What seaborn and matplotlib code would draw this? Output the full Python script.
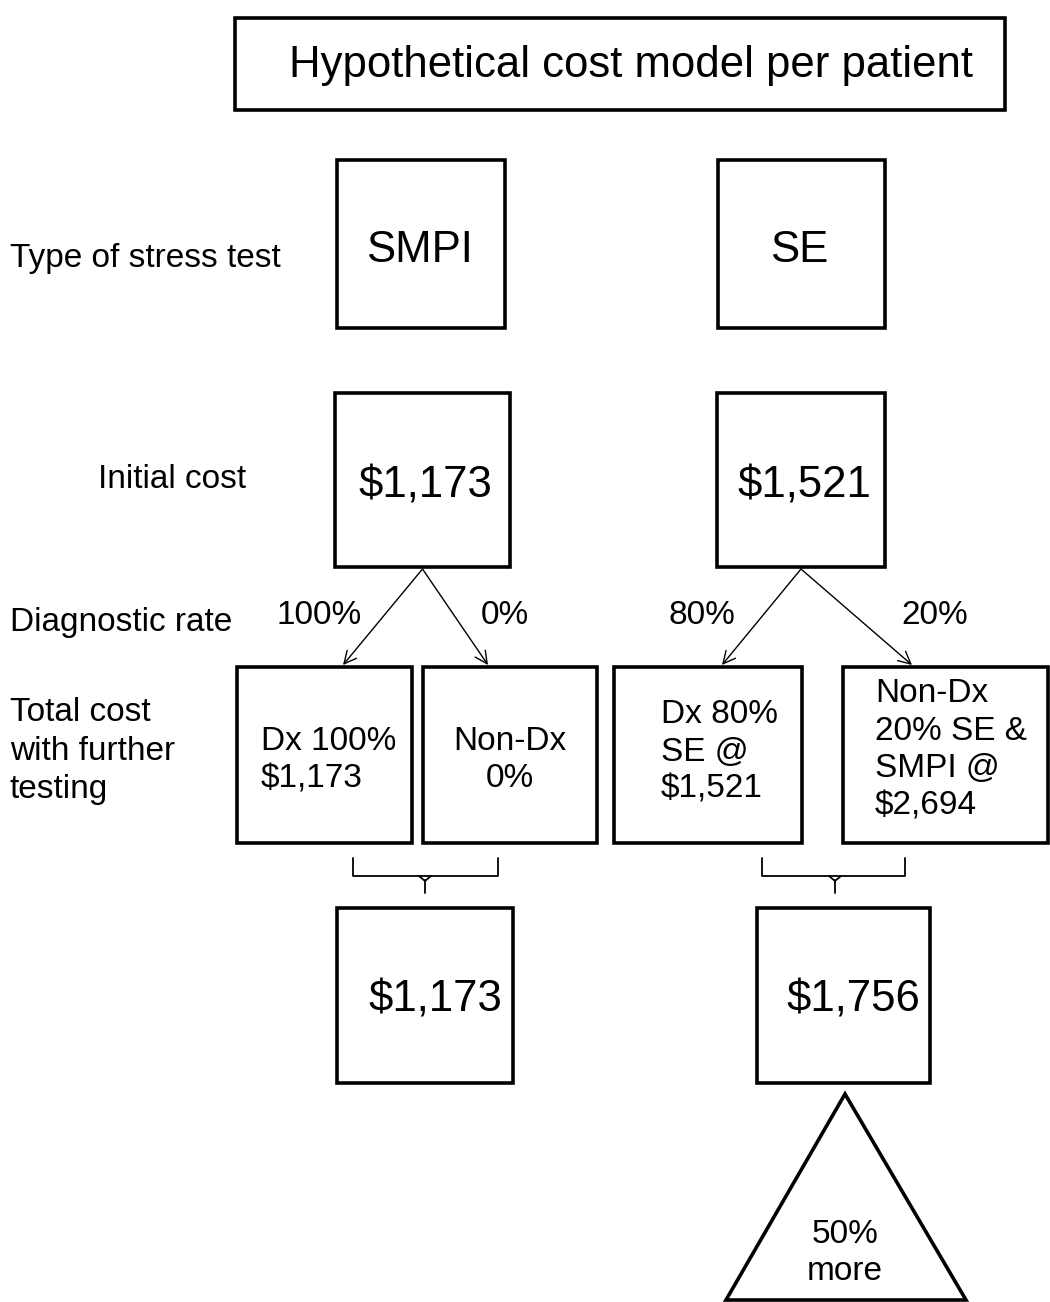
"""Hypothetical per-patient cost model diagram: SMPI vs SE stress testing."""

import matplotlib

matplotlib.use("Agg")
import matplotlib.pyplot as plt
from matplotlib.patches import Polygon, Rectangle
import seaborn as sns

# values shown in the diagram
title = "Hypothetical cost model per patient"
tests = ["SMPI", "SE"]
initial_costs = ["$1,173", "$1,521"]
rate_labels = [["100%", "0%"], ["80%", "20%"]]
branch_texts = [
    ["Dx 100%\n$1,173", "Non-Dx\n0%"],
    ["Dx 80%\nSE @\n$1,521", "Non-Dx\n20% SE &\nSMPI @\n$2,694"],
]
total_costs = ["$1,173", "$1,756"]
row_labels = ["Type of stress test", "Initial cost", "Diagnostic rate",
              "Total cost\nwith further\ntesting"]
extra_note = "50%\nmore"

sns.set_theme(style="white")
plt.rcParams["font.family"] = ["Liberation Sans", "DejaVu Sans"]
plt.rcParams["text.color"] = "black"

W, H = 1050, 1302
fig = plt.figure(figsize=(W / 100, H / 100), dpi=100)
ax = fig.add_axes([0, 0, 1, 1])
ax.set_xlim(0, W)
ax.set_ylim(H, 0)
ax.axis("off")

BOX_LW = 2.6
BIG, MID = 31.5, 24
LS = 1.27


def box(x0, y0, x1, y1):
    ax.add_patch(Rectangle((x0, y0), x1 - x0, y1 - y0, fill=False,
                           lw=BOX_LW, ec="black", joinstyle="miter"))


def brace(x0, x1, xm, y_top=858, y_mid=876, y_bot=893):
    ax.plot([x0, x0, x1, x1], [y_top, y_mid, y_mid, y_top], color="black", lw=1.3)
    ax.plot([xm - 6, xm, xm + 6], [y_mid, y_mid + 5, y_mid], color="black", lw=1.3)
    ax.plot([xm, xm], [y_mid + 4, y_bot], color="black", lw=1.3)


# title
box(235, 18, 1005, 110)
ax.text(631, 66, title, ha="center", va="center", fontsize=BIG)

# row labels
ax.text(10, 259, row_labels[0], ha="left", va="center", fontsize=MID)
ax.text(98, 480, row_labels[1], ha="left", va="center", fontsize=MID)
ax.text(10, 623, row_labels[2], ha="left", va="center", fontsize=MID)
ax.text(10, 751, row_labels[3], ha="left", va="center", fontsize=MID, linespacing=1.33)

# column layout (SMPI, SE)
test_boxes = [(337, 505), (718, 885)]
init_boxes = [(335, 510), (717, 885)]
branch_boxes = [[(237, 412), (423, 597)], [(614, 802), (843, 1048)]]
arrow_ends = [[343, 488], [722, 912]]
rate_x = [[319, 505], [702, 935]]
total_boxes = [(337, 513), (757, 930)]
brace_x = [(353, 498, 425), (762, 905, 835)]

for i in range(2):
    bx0, bx1 = test_boxes[i]
    box(bx0, 160, bx1, 328)
    ax.text((bx0 + bx1) / 2 - 2, 251, tests[i], ha="center", va="center", fontsize=BIG)

    ix0, ix1 = init_boxes[i]
    box(ix0, 393, ix1, 567)
    xc = (ix0 + ix1) / 2
    ax.text(xc + 3, 486, initial_costs[i], ha="center", va="center", fontsize=BIG)

    for j in range(2):
        ax.annotate("", xy=(arrow_ends[i][j], 665), xytext=(xc, 569),
                    arrowprops=dict(arrowstyle="->", color="black", lw=1.0,
                                    mutation_scale=22, shrinkA=0, shrinkB=0))
        ax.text(rate_x[i][j], 616, rate_labels[i][j], ha="center", va="center", fontsize=MID)
        x0, x1 = branch_boxes[i][j]
        box(x0, 667, x1, 843)

    bx0, bx1, bxm = brace_x[i]
    brace(bx0, bx1, bxm)

    tx0, tx1 = total_boxes[i]
    box(tx0, 908, tx1, 1083)
    ax.text((tx0 + tx1) / 2 + 10, 1000, total_costs[i], ha="center", va="center", fontsize=BIG)

# branch box texts
ax.text(261, 760, branch_texts[0][0], ha="left", va="center", fontsize=MID, linespacing=LS)
ax.text(510, 760, branch_texts[0][1], ha="center", va="center", fontsize=MID, linespacing=LS)
ax.text(661, 752, branch_texts[1][0], ha="left", va="center", fontsize=MID, linespacing=LS)
ax.text(875, 750, branch_texts[1][1], ha="left", va="center", fontsize=MID, linespacing=LS)

# triangle note
ax.add_patch(Polygon([(845, 1094), (726, 1300), (966, 1300)], closed=True,
                     fill=False, lw=BOX_LW, ec="black", joinstyle="miter"))
ax.text(845, 1253, extra_note, ha="center", va="center", fontsize=MID, linespacing=LS)

fig.savefig("out.png", dpi=100, facecolor="white")
